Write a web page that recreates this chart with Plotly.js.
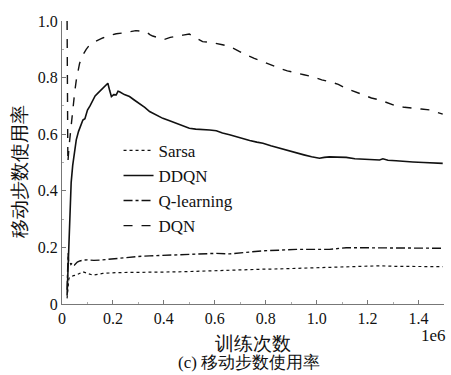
<!DOCTYPE html>
<html>
<head>
<meta charset="utf-8">
<script src="https://cdn.plot.ly/plotly-3.0.1.min.js"></script>
<style>
html,body{margin:0;padding:0;background:#fff;}
#chart{width:451px;height:375px;}
</style>
</head>
<body>
<div id="chart"></div>
<script>
// x values in units of 1e6 training steps
const sarsaX = [0.020,0.023,0.027,0.032,0.036,0.045,0.056,0.070,0.082,0.100,0.121,0.140,0.160,0.213,0.280,0.344,0.410,0.475,0.540,0.606,0.658,0.737,0.789,0.850,0.920,0.985,1.050,1.116,1.181,1.247,1.310,1.378,1.440,1.495];
const sarsaY = [0.020,0.050,0.090,0.095,0.097,0.100,0.102,0.110,0.114,0.108,0.102,0.105,0.108,0.111,0.111,0.112,0.113,0.114,0.116,0.118,0.121,0.122,0.123,0.124,0.126,0.127,0.128,0.130,0.132,0.135,0.133,0.132,0.132,0.132];

const ddqnX = [0.020,0.024,0.028,0.032,0.036,0.042,0.049,0.056,0.065,0.075,0.082,0.090,0.100,0.110,0.120,0.130,0.141,0.155,0.167,0.180,0.187,0.194,0.203,0.213,0.220,0.226,0.245,0.265,0.285,0.305,0.325,0.344,0.370,0.396,0.420,0.449,0.475,0.500,0.525,0.553,0.580,0.606,0.630,0.658,0.684,0.710,0.737,0.765,0.789,0.820,0.854,0.885,0.920,0.950,0.980,1.011,1.030,1.050,1.080,1.116,1.150,1.181,1.215,1.247,1.260,1.280,1.312,1.345,1.378,1.420,1.460,1.495];
const ddqnY = [0.030,0.120,0.250,0.360,0.430,0.490,0.540,0.580,0.610,0.635,0.650,0.655,0.685,0.700,0.720,0.735,0.745,0.757,0.766,0.780,0.755,0.733,0.740,0.739,0.752,0.750,0.740,0.733,0.720,0.709,0.695,0.680,0.668,0.656,0.648,0.639,0.630,0.621,0.618,0.617,0.615,0.612,0.604,0.598,0.591,0.583,0.578,0.572,0.568,0.559,0.550,0.542,0.535,0.527,0.520,0.515,0.518,0.520,0.519,0.518,0.513,0.511,0.510,0.509,0.513,0.508,0.506,0.503,0.502,0.500,0.499,0.497];

const qlX = [0.020,0.022,0.024,0.026,0.030,0.035,0.040,0.049,0.060,0.070,0.082,0.100,0.125,0.148,0.180,0.213,0.250,0.300,0.344,0.400,0.475,0.540,0.606,0.658,0.700,0.737,0.789,0.850,0.920,0.985,1.050,1.116,1.180,1.247,1.310,1.378,1.440,1.495];
const qlY = [0.050,0.120,0.180,0.150,0.150,0.140,0.145,0.138,0.148,0.152,0.155,0.156,0.154,0.155,0.158,0.161,0.164,0.168,0.170,0.172,0.173,0.176,0.179,0.177,0.181,0.183,0.188,0.190,0.193,0.193,0.193,0.199,0.199,0.199,0.199,0.199,0.198,0.197];

const dqnX = [0.020,0.022,0.023,0.028,0.035,0.043,0.050,0.056,0.069,0.082,0.095,0.108,0.125,0.145,0.160,0.185,0.213,0.240,0.265,0.290,0.310,0.330,0.345,0.356,0.375,0.403,0.425,0.449,0.475,0.500,0.525,0.552,0.580,0.606,0.630,0.658,0.690,0.724,0.755,0.789,0.820,0.854,0.885,0.920,0.950,0.985,1.020,1.050,1.085,1.116,1.150,1.181,1.215,1.247,1.280,1.312,1.345,1.378,1.410,1.443,1.470,1.495];
const dqnY = [1.000,0.700,0.500,0.560,0.630,0.690,0.750,0.790,0.850,0.880,0.900,0.915,0.925,0.935,0.940,0.948,0.955,0.958,0.962,0.966,0.964,0.962,0.952,0.947,0.942,0.935,0.942,0.947,0.950,0.954,0.940,0.927,0.925,0.921,0.916,0.910,0.895,0.880,0.868,0.856,0.843,0.833,0.824,0.815,0.810,0.803,0.792,0.786,0.776,0.762,0.750,0.739,0.728,0.721,0.710,0.700,0.695,0.691,0.689,0.686,0.678,0.671];

const seriesNames = ['Sarsa','DDQN','Q-learning','DQN'];
const xTickVals = [0,0.2,0.4,0.6,0.8,1.0,1.2,1.4];
const xTickText = ['0','0.2','0.4','0.6','0.8','1.0','1.2','1.4'];
const yTickVals = [0,0.2,0.4,0.6,0.8,1.0];
const yTickText = ['0','0.2','0.4','0.6','0.8','1.0'];

const serif = 'Liberation Serif';
const ink = '#111111';

const traces = [
  {x: sarsaX, y: sarsaY, name: seriesNames[0], mode: 'lines', line: {color: ink, width: 1.2, dash: 'dot'}},
  {x: ddqnX, y: ddqnY, name: seriesNames[1], mode: 'lines', line: {color: ink, width: 1.6, dash: 'solid'}},
  {x: qlX, y: qlY, name: seriesNames[2], mode: 'lines', line: {color: ink, width: 1.4, dash: 'dashdot'}},
  {x: dqnX, y: dqnY, name: seriesNames[3], mode: 'lines', line: {color: ink, width: 1.4, dash: 'dash'}}
];

const layout = {
  width: 451, height: 375,
  margin: {l: 62, r: 7, t: 21, b: 71},
  paper_bgcolor: '#ffffff', plot_bgcolor: '#ffffff',
  font: {family: serif, size: 16, color: ink},
  showlegend: true,
  legend: {x: 0.148, y: 0.605, xanchor: 'left', yanchor: 'top', bgcolor: 'rgba(0,0,0,0)',
           font: {family: serif, size: 17, color: ink}, tracegroupgap: 0},
  xaxis: {range: [0, 1.5], tickvals: xTickVals, ticktext: xTickText, showgrid: false, zeroline: false,
          showline: true, linecolor: '#777', linewidth: 1, ticks: 'inside', ticklen: 4, tickcolor: '#777',
          tickfont: {family: serif, size: 16, color: ink},
          minor: {dtick: 0.1, ticks: 'inside', ticklen: 2, tickcolor: '#aaa'}},
  yaxis: {range: [0, 1.0], tickvals: yTickVals, ticktext: yTickText, showgrid: false, zeroline: false,
          showline: true, linecolor: '#777', linewidth: 1, ticks: 'inside', ticklen: 4, tickcolor: '#777',
          tickfont: {family: serif, size: 16, color: ink},
          minor: {dtick: 0.1, ticks: 'inside', ticklen: 2, tickcolor: '#aaa'}},
  annotations: [
    {text: '训练次数', xref: 'paper', yref: 'paper', x: 0.5, y: -0.138, xanchor: 'center', yanchor: 'middle',
     showarrow: false, font: {family: serif, size: 19, color: ink}},
    {text: '(c) 移动步数使用率', xref: 'paper', yref: 'paper', x: 0.49, y: -0.208, xanchor: 'center', yanchor: 'middle',
     showarrow: false, font: {family: serif, size: 17, color: ink}},
    {text: '1e6', xref: 'paper', yref: 'paper', x: 1.01, y: -0.11, xanchor: 'right', yanchor: 'middle',
     showarrow: false, font: {family: serif, size: 17, color: ink}},
    {text: '移动步数使用率', xref: 'paper', yref: 'paper', x: -0.11, y: 0.47, xanchor: 'center', yanchor: 'middle',
     textangle: -90, showarrow: false, font: {family: serif, size: 19, color: ink}}
  ]
};

Plotly.newPlot('chart', traces, layout, {displayModeBar: false, staticPlot: true});
</script>
</body>
</html>
